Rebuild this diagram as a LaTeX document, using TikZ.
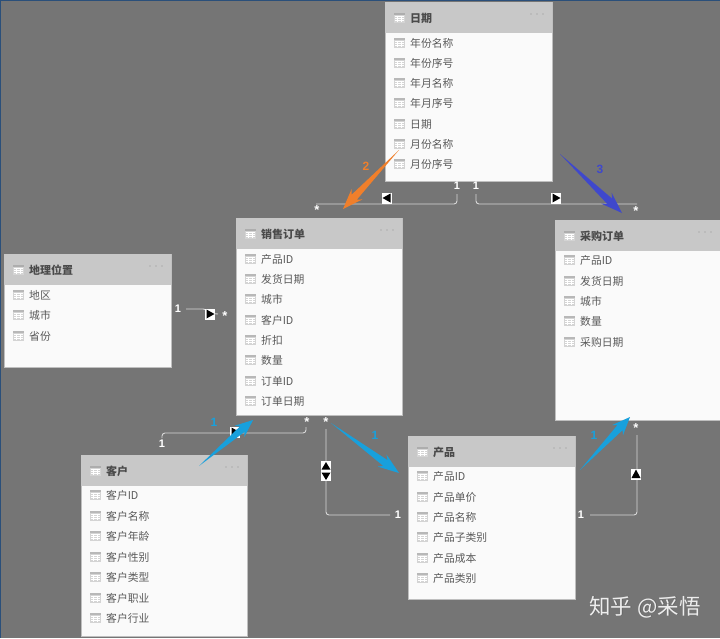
\documentclass[tikz,border=0pt]{standalone}
\usepackage{fontspec}
\setmainfont{Noto Sans CJK SC}
\newfontfamily\latinb{Liberation Sans}[BoldFont={Liberation Sans Bold}]
\usetikzlibrary{calc}
\definecolor{bgc}{HTML}{757575}
\definecolor{headc}{HTML}{C8C8C8}
\definecolor{bodyc}{HTML}{FAFAFA}
\definecolor{txtc}{HTML}{5A5A5A}
\definecolor{titlec}{HTML}{4A4A4A}
\definecolor{linec}{HTML}{D8D8D8}
\definecolor{orangec}{HTML}{F07F2B}
\definecolor{bluec}{HTML}{3F48CC}
\definecolor{cyanc}{HTML}{18A0DC}
\definecolor{framec}{HTML}{2A4F7A}
\tikzset{
  tablebody/.style={fill=bodyc,draw=black!25,line width=.4pt,anchor=north west,inner sep=0pt,outer sep=0pt},
  tablehead/.style={fill=headc,anchor=north west,inner sep=0pt,outer sep=0pt,minimum height=31pt},
  titletext/.style={anchor=west,inner sep=0pt,font=\fontsize{11}{12}\selectfont\bfseries,text=titlec},
  fieldtext/.style={anchor=west,inner sep=0pt,font=\fontsize{10.8}{12}\selectfont,text=txtc},
  relline/.style={draw=linec,line width=.9pt,rounded corners=3pt},
  card/.style={inner sep=0pt,text=white,font=\latinb\fontsize{11}{12}\selectfont\bfseries},
  starmark/.style={inner sep=0pt,text=white,font=\latinb\fontsize{13}{13}\selectfont\bfseries},
  dirbox/.style={fill=white,inner sep=0pt,minimum width=10pt,minimum height=11pt},
  dirboxtall/.style={fill=white,inner sep=0pt,minimum width=10pt,minimum height=20pt},
  numc/.style={inner sep=0pt,font=\latinb\fontsize{12}{12}\selectfont\bfseries},
}
% table icon: #3 is the tone of the lines
\newcommand\tblicon[3]{%
  \fill[black!17] (#1,#2) rectangle ++(11,10);
  \fill[#3] (#1,#2) rectangle ++(11,2.6);
  \draw[white,line width=.45pt] (#1+.8,#2+3.4) -- ++(9.4,0) (#1+.8,#2+5.8) -- ++(9.4,0) (#1+.8,#2+8.2) -- ++(9.4,0)
     (#1+3.7,#2+3) -- ++(0,6.3) (#1+7.3,#2+3) -- ++(0,6.3);
}
% name, x1, y1, x2, y2, title, rows
\newcommand\dbtable[7]{%
  \pgfmathsetmacro\tw{#4-#2}\pgfmathsetmacro\th{#5-#3}%
  \node[tablebody,minimum width=\tw pt,minimum height=\th pt] (#1) at (#2,#3) {};
  \node[tablehead,minimum width=\tw pt] (#1-head) at (#2,#3) {};
  \tblicon{#2+9}{#3+10.5}{black!32}
  \node[titletext] (#1-title) at (#2+25,#3+16) {#6};
  \foreach \dx in {0,6,12} \fill[black!42] (#4-21+\dx,#3+12) circle (.7);
  \foreach \ry/\rt [count=\ri] in {#7} {
    \tblicon{#2+9}{\ry-5.5}{black!28}
    \node[fieldtext] (#1-f\ri) at (#2+25,\ry) {\rt};
  }
}
% tapered arrow
\newcommand\fatarrow[3]{%
  \fill[#1] (#2) -- ($(#2)!.80!(#3)!3.6pt!90:(#3)$) -- ($(#2)!.75!(#3)!7.5pt!90:(#3)$) -- (#3)
    -- ($(#2)!.75!(#3)!7.5pt!-90:(#3)$) -- ($(#2)!.80!(#3)!3.6pt!-90:(#3)$) -- cycle;
}
\begin{document}
\begin{tikzpicture}[x=1pt,y=-1pt]
\useasboundingbox (0,0) rectangle (720,638);
\fill[bgc] (0,0) rectangle (720,638);
\fill[framec] (0,0) rectangle (720,1);
\fill[framec] (0,0) rectangle (1,638);

% connector end points
\coordinate (d1a) at (457,194); \coordinate (s1a) at (316,204);
\coordinate (d1b) at (476,194); \coordinate (c1b) at (637,204);
\coordinate (g1) at (186,309);  \coordinate (s2) at (218,314);
\coordinate (k1) at (162,438);  \coordinate (s3) at (306,427);
\coordinate (kbend) at (235,433);
\coordinate (p1) at (390,515);  \coordinate (s4) at (326,429);
\coordinate (p2) at (590,515);  \coordinate (c2) at (637,435);

% relationship lines
\draw[relline] (d1a) |- (s1a);
\draw[relline] (d1b) |- (c1b);
\draw[relline] (g1) -- (200,309) to[out=0,in=180] (s2);
\draw[relline] (k1) |- (kbend) -| (s3);
\draw[relline] (s4) |- (p1);
\draw[relline] (c2) |- (p2);

% tables
\dbtable{riqi}{385}{2}{552}{181}{日期}{43/年份名称,63/年份序号,83/年月名称,103/年月序号,124/日期,144/月份名称,164/月份序号}
\dbtable{xiaoshou}{236}{218}{402}{415}{销售订单}{259/产品ID,279/发货日期,299/城市,320/客户ID,340/折扣,360/数量,381/订单ID,401/订单日期}
\dbtable{caigou}{555}{220}{720}{420}{采购订单}{260/产品ID,281/发货日期,301/城市,321/数量,342/采购日期}
\dbtable{dili}{4}{254}{171}{367}{地理位置}{295/地区,315/城市,336/省份}
\dbtable{kehu}{81}{455}{247}{636}{客户}{495/客户ID,516/客户名称,536/客户年龄,557/客户性别,577/客户类型,598/客户职业,618/客户行业}
\dbtable{chanpin}{408}{436}{575}{599}{产品}{476/产品ID,497/产品单价,517/产品名称,537/产品子类别,558/产品成本,578/产品类别}

% direction markers
\node[dirbox] (m1) at (387,198) {};
\fill[black] (382.5,198) -- (390.5,193.5) -- (390.5,202.5) -- cycle;
\node[dirbox] (m2) at (556,198) {};
\fill[black] (560.5,198) -- (552.5,193.5) -- (552.5,202.5) -- cycle;
\node[dirbox] (m3) at (210,314) {};
\fill[black] (214.5,314) -- (206.5,309.5) -- (206.5,318.5) -- cycle;
\node[dirbox] (m4) at (235,432) {};
\fill[black] (239.5,432) -- (231.5,427.5) -- (231.5,436.5) -- cycle;
\node[dirboxtall] (m5) at (326,471) {};
\fill[black] (326,462) -- (321.5,469.5) -- (330.5,469.5) -- cycle;
\fill[black] (326,480) -- (321.5,472.5) -- (330.5,472.5) -- cycle;
\node[dirbox] (m6) at (636,474) {};
\fill[black] (636,469.5) -- (631.5,478) -- (640.5,478) -- cycle;

% cardinalities
\node[card] (n1) at (457,186) {1};
\node[card] (n2) at (476,186) {1};
\node[card] (n3) at (178,309) {1};
\node[card] (n4) at (162,444) {1};
\node[card] (n5) at (398,515) {1};
\node[card] (n6) at (581,515) {1};
\node[starmark,anchor=north] (t1) at (317,205) {*};
\node[starmark,anchor=north] (t2) at (636,206) {*};
\node[starmark,anchor=north] (t3) at (225,311) {*};
\node[starmark,anchor=north] (t4) at (307,417) {*};
\node[starmark,anchor=north] (t5) at (326,417) {*};
\node[starmark,anchor=north] (t6) at (636,423) {*};

% coloured annotation arrows
\coordinate (a1s) at (399,150); \coordinate (a1e) at (343,209);
\coordinate (a2s) at (560,154); \coordinate (a2e) at (622,213);
\coordinate (a3s) at (199,466); \coordinate (a3e) at (253,420);
\coordinate (a4s) at (331,423); \coordinate (a4e) at (399,473);
\coordinate (a5s) at (580,470); \coordinate (a5e) at (630,417);
\fatarrow{orangec}{a1s}{a1e}
\fatarrow{bluec}{a2s}{a2e}
\fatarrow{cyanc}{a3s}{a3e}
\fatarrow{cyanc}{a4s}{a4e}
\fatarrow{cyanc}{a5s}{a5e}
\node[numc,text=orangec] (l1) at (366,166) {2};
\node[numc,text=bluec] (l2) at (600,169) {3};
\node[numc,text=cyanc] (l3) at (214,422) {1};
\node[numc,text=cyanc] (l4) at (375,435) {1};
\node[numc,text=cyanc] (l5) at (594,435) {1};

% watermark
\node[inner sep=0pt,text=black!60,font=\fontsize{21.5}{24}\selectfont] at (645.8,607.8) {知乎 @采悟};
\node[inner sep=0pt,text=white!93!black,font=\fontsize{21.5}{24}\selectfont] (wm) at (645,607) {知乎 @采悟};
\end{tikzpicture}
\end{document}
